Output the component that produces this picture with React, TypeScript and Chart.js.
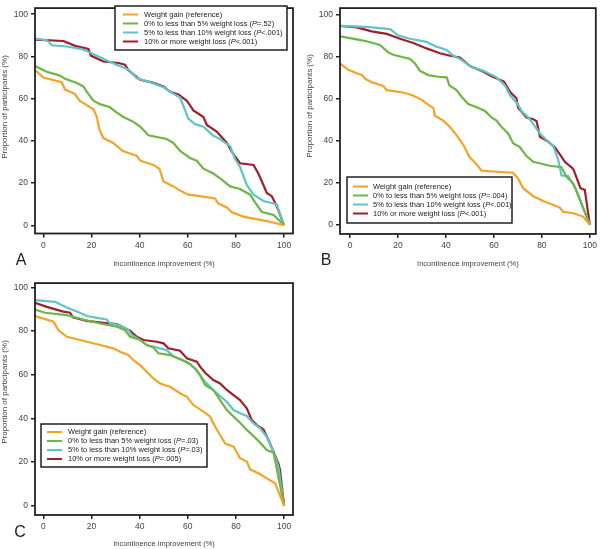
import React, { useEffect, useRef } from "react";
import { Chart, registerables } from "chart.js";

Chart.register(...registerables);

// ---------- data ----------
const xTicks = [0, 20, 40, 60, 80, 100];
const yTicks = [0, 20, 40, 60, 80, 100];
const seriesLabels = [
  "Weight gain (reference)",
  "0% to less than 5% weight loss",
  "5% to less than 10% weight loss",
  "10% or more weight loss",
];
const seriesColors = ["#F5A325", "#6DB646", "#60C4C7", "#A01F2C"];
const pValuesA = ["", "=.52", "<.001", "<.001"];
const pValuesB = ["", "=.004", "<.001", "<.001"];
const pValuesC = ["", "=.03", "=.03", "=.005"];
const xTitle = "Incontinence improvement (%)";
const yTitle = "Proportion of participants (%)";

const aGain = [[-3.5,73.5],[0,70],[7.6,67.8],[9,64.3],[13,62.3],[15,59],[17.3,57.4],[20.8,55],[22.2,51.3],[23.3,45.2],[24.9,41.3],[29,39],[33,35.2],[38.8,32.9],[40.2,30.6],[45.7,28.6],[48.2,26.8],[49.9,20.7],[54,18.4],[56.8,16.4],[60.2,14.5],[65,13.8],[71.3,12.7],[72.7,10.3],[76.2,8.4],[78.3,6.1],[83,4.1],[92.8,2],[100,0]];
const aLoss0to5 = [[-3.5,75.5],[1.4,72.7],[6.9,70.9],[9,69.4],[13.9,67.4],[16.6,65.8],[18.3,62.8],[20.8,59],[23.5,57.4],[27.7,55.9],[29.8,54],[33.2,51.3],[37.4,49],[40.2,46.7],[42.2,44.4],[43.6,42.6],[51.2,40.9],[54,39],[56.8,35.2],[60.9,31.9],[63.7,30.6],[66.5,26.8],[70.6,24.5],[73.4,22.2],[77.6,18.4],[81.7,17.2],[85.9,14.5],[88,10.7],[90.7,6.4],[95.6,4.9],[100,0]];
const aLoss5to10 = [[-3.5,88.4],[1.4,87.7],[3.5,85.3],[9.7,84.7],[15.9,83.5],[19.4,81.9],[23.5,79.6],[29.1,76.6],[35.3,73.8],[38.8,69.7],[44.3,67.8],[49.9,65.4],[53.3,62.8],[56.8,60.5],[58.9,54.4],[60.2,50.5],[63,47.9],[66.5,46.7],[70.6,42.4],[72.7,41.3],[77.6,37.5],[79.6,31.4],[81.7,27.6],[84.5,19.1],[87.3,14.5],[91.4,11.5],[96.9,10],[100,0]];
const aLoss10 = [[-3.5,88],[8.3,87.3],[13.2,85],[18.7,83.5],[19.7,80.4],[24.9,77.6],[31.2,76.9],[33.9,76.1],[35.3,73.5],[40.2,68.9],[45,67.7],[49.9,65.8],[52.6,63.2],[56.1,62],[59.6,59],[62.3,54.4],[66.5,51.3],[67.9,47.5],[72,44.4],[76.2,39],[78.9,33.7],[81.7,29.4],[87.3,28.6],[89.3,24.5],[91.4,19.1],[92.8,15.3],[94.9,13.8],[96.9,9.2],[100,0]];

const bGain = [[-4.2,76.7],[-0.7,73.7],[3.5,71.7],[4.9,71.2],[6.3,69.4],[9,67.8],[13.9,66],[15.3,64],[22.2,62.9],[25.7,61.7],[29.9,59.4],[31.9,57.6],[34.7,55.6],[35.4,51.8],[38.9,49.5],[41.7,46.4],[44.4,42.6],[47.2,38],[49.3,33.4],[50,31.9],[52.1,29.6],[54.9,25.7],[58.3,25.4],[68,24.7],[70.1,21.9],[72.2,17.3],[76.4,13.5],[80.6,11.2],[87.5,8.1],[88.9,6.1],[93.1,5.4],[97.2,3.8],[100,0]];
const bLoss0to5 = [[-4.2,89.6],[2.8,88.2],[6.9,87.3],[12.5,85.5],[16,81.9],[18,80.9],[25,78.9],[27.1,76.7],[29.2,73.2],[32.6,71.2],[36.8,70.4],[40.3,70.1],[41.4,66.3],[44.4,64],[46.5,60.9],[49.3,57.4],[52.8,55.9],[56.3,54.1],[59,51],[61.1,49.5],[63.2,46.4],[66,43.3],[68,38.7],[70.8,36.9],[73.6,32.6],[76.4,29.9],[83.3,28],[88.2,27.3],[90.3,22.7],[93.1,19.6],[100,0]];
const bLoss5to10 = [[-4.2,94.6],[6.9,94.2],[16.7,93.1],[20.1,90],[25,88.5],[31.9,87],[36.1,84.7],[40.3,83.2],[43,80.4],[45.8,78.9],[50,75.5],[55.6,73.2],[61.1,70.1],[64.6,66.3],[66.7,61.7],[70.1,57.1],[71.5,54.1],[75,50.2],[79.2,43.3],[81.9,40.3],[84.7,37.5],[86.8,31],[88.2,23.4],[91,23.1],[94.4,16.5],[100,0]];
const bLoss10 = [[-4.2,94.6],[2.8,93.9],[9,92],[15.3,90.8],[20.8,88.5],[26.4,86.5],[31.9,83.9],[37.5,81.6],[41.7,80.4],[45.8,79.6],[50,75.5],[54.9,73.2],[59,70.6],[64.2,68.1],[66.7,63.2],[69.4,60.2],[70.1,55.6],[73.6,51],[76.4,50.2],[77.8,49.2],[79.2,41.8],[82.6,39.5],[85.4,36.8],[87.5,33.4],[89.6,29.9],[93.1,26.5],[95.1,20.4],[96.1,17.3],[97.9,16.5],[100,0]];

const cGain = [[-3.5,86.9],[4.2,84.3],[6.2,80.5],[9.7,77.4],[15.2,75.9],[23.5,73.6],[29.1,72.1],[31.9,70.5],[35.3,69],[37.4,66.7],[40.2,64.4],[42.9,61.4],[45.7,58.3],[48.5,56],[52.6,54.5],[56.8,51.5],[59.6,49.9],[62.3,46.1],[66.5,43.1],[69.3,40.8],[70.6,37.7],[73.4,32.4],[75.5,28.5],[79,27],[81.7,21.7],[84.5,20.2],[85.9,16.6],[90,14.5],[92.8,12.5],[96.3,10.2],[100,0]];
const cLoss0to5 = [[-3.5,89.9],[0.7,88.4],[9.7,87.3],[16.6,85.3],[23.5,83.5],[30.5,82],[33.9,80.5],[36,77.4],[40.2,75.9],[42.9,73.6],[45.7,72.5],[47.8,69.8],[52.6,69],[57.5,66.7],[60.9,64.9],[63.7,62.1],[65.1,59.8],[67.2,55.3],[70.6,53],[73.4,48.4],[76.2,43.8],[79,40.8],[81.7,38],[84.5,34.7],[87.3,31.9],[90,28.9],[92.8,25.5],[95.6,24.3],[100,0]];
const cLoss5to10 = [[-3.5,94.2],[4.8,93.4],[9.7,90.8],[15.2,88.4],[18,86.9],[23.5,85.8],[26.3,85.3],[27.7,83.5],[31.9,82.7],[35.3,80.5],[36.7,78.2],[40.2,75.9],[42.9,73.6],[47.1,72.5],[51.2,71.3],[54,68.5],[59.6,66],[63,62.9],[66.5,57.6],[70.6,53],[73.4,50.2],[76.2,47.6],[79,43.8],[81.7,42.3],[84.5,41.1],[87.3,37.7],[90,35.4],[92.8,31.6],[95.6,24.7],[97.6,17.9],[100,0]];
const cLoss10 = [[-3.5,93],[1.4,91.1],[8.3,88.9],[11.1,88.4],[12.2,86.3],[18,84.7],[24.9,83.8],[30.5,83.2],[33.2,81.7],[36,80.2],[38.8,77.4],[41.6,75.9],[47.1,75.1],[49.9,74.4],[51.9,72.1],[56.8,71],[59.6,67.5],[63.7,66],[65.1,63.7],[67.2,60.9],[70.6,57.6],[73.4,56],[76.2,53],[79,50.7],[81.7,48.4],[84.5,44.6],[86.6,39.2],[88.6,36.9],[91.4,35],[93.5,30.1],[95.6,24.7],[97.6,19.4],[98.3,16.3],[100,0]];

// ---------- chart helpers ----------
const FONT = '"Liberation Sans", Arial, Helvetica, sans-serif';

const decorPlugin = {
  id: "decor",
  afterDraw(chart: any, _args: any, opts: any) {
    const { ctx, chartArea: a } = chart;
    ctx.save();
    // frame
    ctx.strokeStyle = "#222";
    ctx.lineWidth = 1.8;
    ctx.strokeRect(a.left, a.top, a.right - a.left, a.bottom - a.top);
    // y title
    ctx.save();
    ctx.fillStyle = "#444";
    ctx.font = `8px ${FONT}`;
    ctx.translate(opts.yTitleX, opts.yTitleY);
    ctx.rotate(-Math.PI / 2);
    ctx.textAlign = "center";
    ctx.textBaseline = "middle";
    ctx.fillText(opts.yTitle, 0, 0);
    ctx.restore();
    // panel letter
    ctx.fillStyle = "#222";
    ctx.font = `16px ${FONT}`;
    ctx.textAlign = "center";
    ctx.textBaseline = "middle";
    ctx.fillText(opts.letter, opts.letterX, opts.letterY);
    // legend
    const L = opts.legend;
    ctx.fillStyle = "#fff";
    ctx.fillRect(L.x, L.y, L.w, L.h);
    ctx.strokeStyle = "#111";
    ctx.lineWidth = 1.4;
    ctx.strokeRect(L.x, L.y, L.w, L.h);
    const ds = chart.data.datasets;
    const rowH = 9;
    const start = L.y + (L.h - rowH * (ds.length - 1)) / 2;
    ds.forEach((d: any, i: number) => {
      const yy = start + i * rowH;
      ctx.strokeStyle = d.borderColor;
      ctx.lineWidth = 2;
      ctx.beginPath();
      ctx.moveTo(L.x + L.sw, yy);
      ctx.lineTo(L.x + L.sw + 15, yy);
      ctx.stroke();
      ctx.textAlign = "left";
      ctx.textBaseline = "middle";
      ctx.fillStyle = "#222";
      let tx = L.x + L.tx;
      const p = opts.pValues[i];
      ctx.font = `7.5px ${FONT}`;
      if (!p) {
        ctx.fillText(d.label, tx, yy);
      } else {
        const s1 = d.label + " (";
        ctx.fillText(s1, tx, yy);
        tx += ctx.measureText(s1).width;
        ctx.font = `italic 7.5px ${FONT}`;
        ctx.fillText("P", tx, yy);
        tx += ctx.measureText("P").width;
        ctx.font = `7.5px ${FONT}`;
        ctx.fillText(p + ")", tx, yy);
      }
    });
    ctx.restore();
  },
};

type PanelCfg = {
  series: number[][][];
  pValues: string[];
  xMin: number; xMax: number; yMin: number; yMax: number;
  padding: { left: number; top: number; right: number; bottom: number };
  yWidth: number; xHeight: number; xTitlePad: number;
  letter: string; letterX: number; letterY: number;
  yTitleX: number; yTitleY: number;
  legend: { x: number; y: number; w: number; h: number; sw: number; tx: number };
};

function makeConfig(p: PanelCfg): any {
  const tickFont = { family: FONT, size: 8.5 };
  return {
    type: "line",
    data: {
      datasets: p.series.map((s, i) => ({
        label: seriesLabels[i],
        data: s,
        borderColor: seriesColors[i],
        backgroundColor: seriesColors[i],
        borderWidth: 2.2,
        pointRadius: 0,
        tension: 0,
        fill: false,
      })),
    },
    options: {
      responsive: false,
      animation: false,
      devicePixelRatio: 1,
      layout: { padding: p.padding },
      plugins: {
        legend: { display: false },
        tooltip: { enabled: false },
        decor: {
          letter: p.letter, letterX: p.letterX, letterY: p.letterY,
          yTitle, yTitleX: p.yTitleX, yTitleY: p.yTitleY,
          legend: p.legend, pValues: p.pValues,
        },
      },
      scales: {
        x: {
          type: "linear",
          min: p.xMin,
          max: p.xMax,
          afterBuildTicks: (s: any) => { s.ticks = xTicks.map((v) => ({ value: v })); },
          afterFit: (s: any) => { s.height = p.xHeight; },
          ticks: { font: tickFont, color: "#444", padding: 3, maxRotation: 0, autoSkip: false },
          grid: { display: true, drawOnChartArea: false, drawTicks: true, tickLength: 4, color: "#222", lineWidth: 1.5 },
          border: { display: false },
          title: { display: true, text: xTitle, font: { family: FONT, size: 7.5 }, color: "#444", padding: { top: 0, bottom: p.xTitlePad } },
        },
        y: {
          type: "linear",
          min: p.yMin,
          max: p.yMax,
          afterBuildTicks: (s: any) => { s.ticks = yTicks.map((v) => ({ value: v })); },
          afterFit: (s: any) => { s.width = p.yWidth; },
          ticks: { font: tickFont, color: "#444", padding: 3, autoSkip: false },
          grid: { display: true, drawOnChartArea: false, drawTicks: true, tickLength: 4, color: "#222", lineWidth: 1.5 },
          border: { display: false },
        },
      },
    },
    plugins: [decorPlugin],
  };
}

const panelA: PanelCfg = {
  series: [aGain, aLoss0to5, aLoss5to10, aLoss10],
  pValues: pValuesA,
  xMin: -3.5, xMax: 103.7, yMin: -3.9, yMax: 102.9,
  padding: { left: 0, top: 1, right: 7, bottom: 0 },
  yWidth: 35, xHeight: 41.5, xTitlePad: 7,
  letter: "A", letterX: 21, letterY: 261,
  yTitleX: 5, yTitleY: 107,
  legend: { x: 115, y: 6, w: 172, h: 44, sw: 8, tx: 29 },
};

const panelB: PanelCfg = {
  series: [bGain, bLoss0to5, bLoss5to10, bLoss10],
  pValues: pValuesB,
  xMin: -4.2, xMax: 102.5, yMin: -4.5, yMax: 103.1,
  padding: { left: 0, top: 1, right: 4, bottom: 0 },
  yWidth: 40, xHeight: 41, xTitlePad: 7,
  letter: "B", letterX: 26, letterY: 261,
  yTitleX: 10, yTitleY: 106,
  legend: { x: 47, y: 177, w: 165, h: 46, sw: 6, tx: 26 },
};

const panelC: PanelCfg = {
  series: [cGain, cLoss0to5, cLoss5to10, cLoss10],
  pValues: pValuesC,
  xMin: -3.5, xMax: 103.7, yMin: -4.3, yMax: 102,
  padding: { left: 0, top: 8, right: 7, bottom: 0 },
  yWidth: 35, xHeight: 34, xTitlePad: 1,
  letter: "C", letterX: 20, letterY: 258,
  yTitleX: 5, yTitleY: 117,
  legend: { x: 41, y: 149, w: 166, h: 43, sw: 6, tx: 27 },
};

function Panel({ cfg, left, top, width, height }: { cfg: PanelCfg; left: number; top: number; width: number; height: number }) {
  const ref = useRef<HTMLCanvasElement | null>(null);
  useEffect(() => {
    if (!ref.current) return;
    const chart = new Chart(ref.current, makeConfig(cfg));
    return () => chart.destroy();
  }, [cfg]);
  return (
    <canvas
      ref={ref}
      width={width}
      height={height}
      style={{ position: "absolute", left, top, width, height }}
    />
  );
}

export default function App() {
  return (
    <div style={{ position: "absolute", left: 0, top: 0, width: 600, height: 549, background: "#fff", overflow: "hidden" }}>
      <Panel cfg={panelA} left={0} top={0} width={300} height={275} />
      <Panel cfg={panelB} left={300} top={0} width={300} height={275} />
      <Panel cfg={panelC} left={0} top={275} width={300} height={274} />
    </div>
  );
}
